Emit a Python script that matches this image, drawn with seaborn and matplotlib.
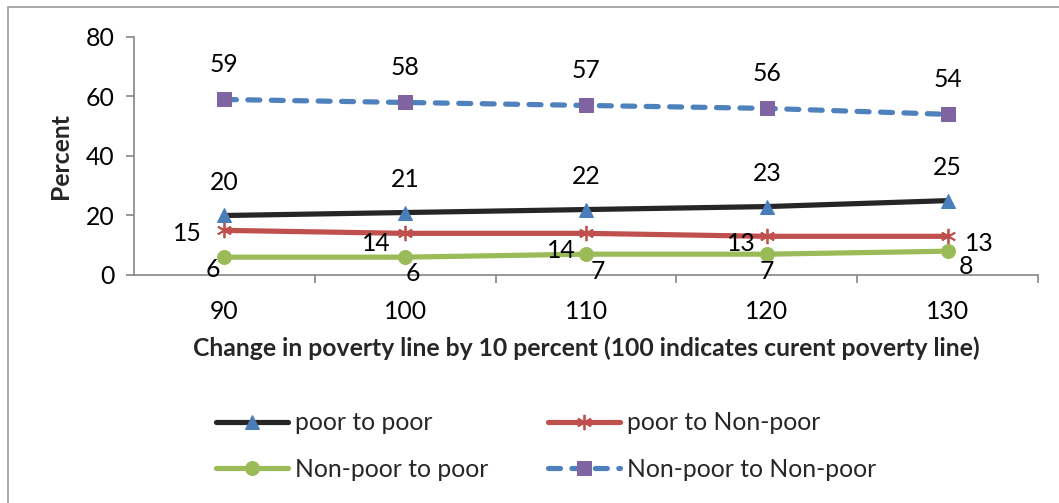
import matplotlib
matplotlib.use("Agg")
import matplotlib.pyplot as plt
import seaborn as sns
from matplotlib.patches import Rectangle
from matplotlib.ticker import FixedLocator

# Poverty line as a share of the current line (100 = current)
poverty_line = [90, 100, 110, 120, 130]

# Transition shares (percent) for each poverty line
poor_to_poor = [20, 21, 22, 23, 25]
poor_to_nonpoor = [15, 14, 14, 13, 13]
nonpoor_to_poor = [6, 6, 7, 7, 8]
nonpoor_to_nonpoor = [59, 58, 57, 56, 54]

series_names = ["poor to poor", "poor to Non-poor",
                "Non-poor to poor", "Non-poor to Non-poor"]
y_ticks = [0, 20, 40, 60, 80]
x_label = "Change in poverty line by 10 percent (100 indicates curent poverty line)"
y_label = "Percent"

sns.set_theme(style="white")
plt.rcParams["font.family"] = ["Lato", "DejaVu Sans"]

FS = 17.8
W, H = 1059, 503
fig = plt.figure(figsize=(W / 100, H / 100), dpi=100)
fig.patch.set_facecolor("white")
ax = fig.add_axes([134 / W, 1 - 275 / H, 904 / W, 238 / H])

series = [
    (poor_to_poor, dict(color="#262626", marker="^", markersize=10.5,
                        markerfacecolor="#4a7ebb", markeredgecolor="#4a7ebb")),
    (poor_to_nonpoor, dict(color="#c0504d", marker=(6, 2, 0), markersize=11,
                           markerfacecolor="#c0504d", markeredgecolor="#c0504d",
                           markeredgewidth=1.3)),
    (nonpoor_to_poor, dict(color="#9bbb59", marker="o", markersize=10,
                           markerfacecolor="#9bbb59", markeredgecolor="#9bbb59")),
    (nonpoor_to_nonpoor, dict(color="#4f81bd", marker="s", markersize=10.5,
                              markerfacecolor="#8064a2", markeredgecolor="#8064a2")),
]

for (values, style), name in zip(series, series_names):
    sns.lineplot(x=poverty_line, y=values, ax=ax, label=name, linewidth=3.75,
                 solid_capstyle="round", **style)

dashed = ax.lines[-1]
dashed.set_dashes([2.3, 2.2])
dashed.set_dash_capstyle("round")

# Value labels, offsets in pixels from each marker
label_offsets = [
    [(0, 33)] * 5,
    [(-37, -3), (-29, -10), (-25, -17), (-25, -7), (32, -7)],
    [(-12, -12), (8, -16), (12, -17), (0, -17), (18, -15)],
    [(0, 35)] * 5,
]
for (values, _), offs in zip(series, label_offsets):
    for x, v, (dx, dy) in zip(poverty_line, values, offs):
        ax.annotate(f"{v}", (x, v), xytext=(dx, dy), textcoords="offset pixels",
                    ha="center", va="center", fontsize=FS, color="black")

# Category-style x axis
ax.set_xlim(85, 135)
ax.set_ylim(0, 80)
ax.set_xticks(poverty_line)
ax.set_xticklabels([str(v) for v in poverty_line])
ax.xaxis.set_minor_locator(FixedLocator([95, 105, 115, 125, 135]))
ax.set_yticks(y_ticks)

axis_color = "#868686"
for side in ["top", "right"]:
    ax.spines[side].set_visible(False)
for side in ["left", "bottom"]:
    ax.spines[side].set_color(axis_color)
    ax.spines[side].set_linewidth(1.2)

ax.tick_params(axis="x", which="major", length=0, pad=18, labelsize=FS,
               colors="black")
ax.tick_params(axis="x", which="minor", bottom=True, length=6, width=1.2,
               color=axis_color, direction="out")
ax.tick_params(axis="y", which="major", left=True, length=6, width=1.2,
               color=axis_color, pad=8, labelsize=FS, labelcolor="black",
               direction="out")

ax.set_xlabel(x_label, fontsize=FS, fontweight="bold", labelpad=10)
ax.set_ylabel(y_label, fontsize=FS, fontweight="bold", labelpad=10)

# Legend filled row by row in two columns
handles, labels = ax.get_legend_handles_labels()
order = [0, 2, 1, 3]
ax.legend([handles[i] for i in order], [labels[i] for i in order], ncol=2,
          loc="center left",
          bbox_to_anchor=(216 / W, 1 - 446 / H), bbox_transform=fig.transFigure,
          frameon=False, fontsize=FS, handlelength=2.9, handletextpad=0.3,
          columnspacing=2.4, labelspacing=0.95, borderpad=0, borderaxespad=0)

# Chart-area border
fig.patches.append(Rectangle((8 / W, -0.1), 1.2, 1 - 7 / H + 0.1,
                             transform=fig.transFigure, fill=False,
                             edgecolor="#9a9a9a", linewidth=1.2))

fig.savefig("out.png", dpi=100, facecolor="white")
